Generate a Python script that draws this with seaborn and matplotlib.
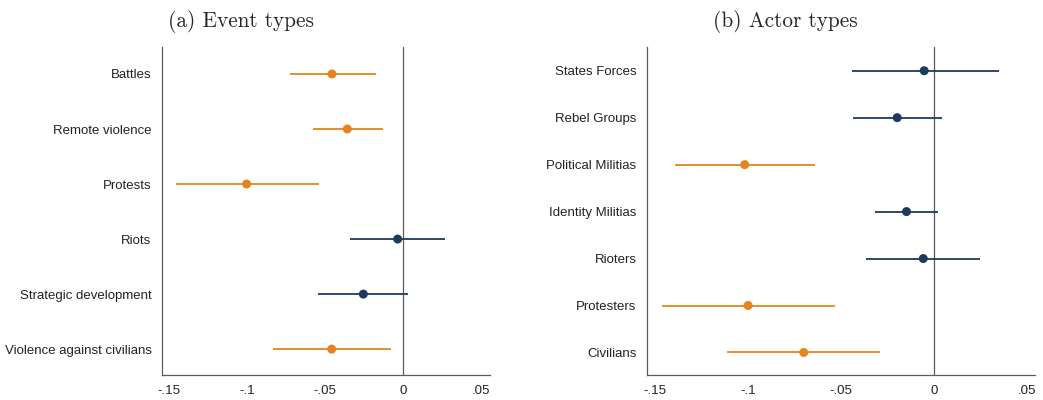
import pandas as pd
import numpy as np
import matplotlib
matplotlib.use("Agg")
import matplotlib.pyplot as plt
import seaborn as sns

# coefficient estimates and 95% CI
event_types = ["Battles", "Remote violence", "Protests", "Riots",
               "Strategic development", "Violence against civilians"]
event_est = [-0.0455, -0.0357, -0.1002, -0.0034, -0.0254, -0.0457]
event_lo = [-0.0724, -0.0575, -0.1457, -0.0340, -0.0543, -0.0831]
event_hi = [-0.0173, -0.0126, -0.0536, 0.0269, 0.0034, -0.0079]

actor_types = ["States Forces", "Rebel Groups", "Political Militias", "Identity Militias",
               "Rioters", "Protesters", "Civilians"]
actor_est = [-0.0052, -0.0197, -0.1016, -0.0147, -0.0057, -0.0998, -0.0699]
actor_lo = [-0.0442, -0.0437, -0.1389, -0.0314, -0.0362, -0.1461, -0.1111]
actor_hi = [0.0351, 0.0041, -0.0636, 0.0023, 0.0247, -0.0532, -0.0287]

xticks = [-0.15, -0.1, -0.05, 0, 0.05]
xtick_labels = ["-.15", "-.1", "-.05", "0", ".05"]

ORANGE = "#E5841F"
NAVY = "#1E3A5C"
GREY = "#5a5a5a"


def coef_panel(ax, labels, est, lo, hi, xlim, ylim):
    df = pd.DataFrame({"label": labels, "est": est, "lo": lo, "hi": hi})
    df["pos"] = np.arange(len(df))
    df["sig"] = np.where(df["hi"] < 0, "sig", "ns")
    pal = {"sig": ORANGE, "ns": NAVY}
    for _, r in df.iterrows():
        ax.hlines(r["pos"], r["lo"], r["hi"], color=pal[r["sig"]], lw=1.3, zorder=2)
    sns.scatterplot(data=df, x="est", y="pos", hue="sig", palette=pal, s=42,
                    edgecolor="none", legend=False, ax=ax, zorder=3)
    ax.axvline(0, color=GREY, lw=0.9, zorder=1)
    ax.set_xlim(*xlim)
    ax.set_ylim(*ylim)
    ax.set_xticks(xticks)
    ax.set_xticklabels(xtick_labels)
    ax.set_yticks(df["pos"])
    ax.set_yticklabels(df["label"])
    ax.set_xlabel("")
    ax.set_ylabel("")
    sns.despine(ax=ax)
    for s in ["left", "bottom"]:
        ax.spines[s].set_color(GREY)
        ax.spines[s].set_linewidth(0.9)
    ax.tick_params(axis="both", colors=GREY, labelcolor="#222222", labelsize=9.5,
                   length=4, width=0.8)


sns.set_theme(style="white")
plt.rcParams["font.family"] = ["Liberation Sans", "DejaVu Sans"]

fig = plt.figure(figsize=(10.43, 4.0), dpi=100)
ax1 = fig.add_axes([0.1553, 0.0625, 0.3145, 0.82])
ax2 = fig.add_axes([0.6203, 0.0625, 0.3720, 0.82])

coef_panel(ax1, event_types, event_est, event_lo, event_hi,
           (-0.1545, 0.0558), (5.47, -0.49))
coef_panel(ax2, actor_types, actor_est, actor_lo, actor_hi,
           (-0.1541, 0.0543), (6.48, -0.505))

fig.text(0.2306, 0.947, "(a) Event types", ha="center", va="center",
         fontsize=15.3, family=["cmr10", "DejaVu Serif"])
fig.text(0.753, 0.947, "(b) Actor types", ha="center", va="center",
         fontsize=15.3, family=["cmr10", "DejaVu Serif"])

fig.savefig("out.png", dpi=100)
plt.close()
